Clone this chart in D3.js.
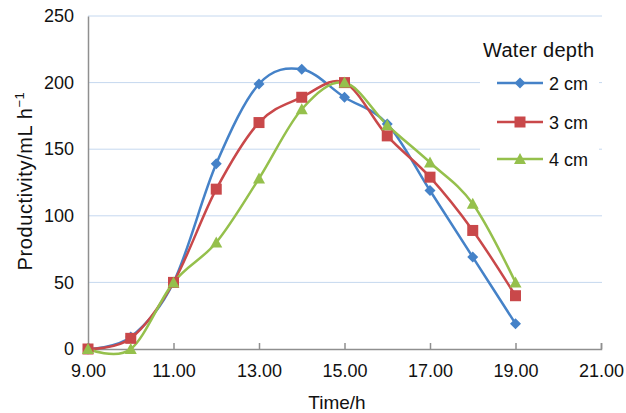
<!DOCTYPE html>
<meta charset="utf-8">
<style>
    body { margin: 0; background: #fff; }
    svg { display: block; font-family: "Liberation Sans", Arial, sans-serif; }
</style>
<svg id="chart" width="626" height="413"></svg>
<script src="https://cdn.jsdelivr.net/npm/d3@7"></script>
<script>
    // data
    var hours = [9, 10, 11, 12, 13, 14, 15, 16, 17, 18, 19];
    var depth2 = [0, 9, 50, 139, 199, 210, 189, 169, 119, 69, 19];
    var depth3 = [0, 8, 50, 120, 170, 189, 200, 160, 129, 89, 40];
    var depth4 = [0, 0, 50, 80, 128, 180, 200, 168, 140, 109, 50];
    var xTicks = [9, 11, 13, 15, 17, 19, 21];
    var yTicks = [0, 50, 100, 150, 200, 250];
    var seriesNames = ["2 cm", "3 cm", "4 cm"];

    var series = [
        { name: seriesNames[0], values: depth2, color: "#4582c8", marker: "diamond" },
        { name: seriesNames[1], values: depth3, color: "#c9484a", marker: "square" },
        { name: seriesNames[2], values: depth4, color: "#95c04c", marker: "triangle" }
    ];

    var svg = d3.select("#chart");
    var plotLeft = 88, plotRight = 601, plotTop = 16, plotBottom = 349;

    var x = d3.scaleLinear().domain([9, 21]).range([plotLeft, plotRight]);
    var y = d3.scaleLinear().domain([0, 250]).range([plotBottom, plotTop]);

    // gridlines
    svg.append("g")
        .selectAll("line")
        .data(yTicks.filter(d => d > 0))
        .join("line")
        .attr("x1", plotLeft).attr("x2", plotRight + 1)
        .attr("y1", d => y(d)).attr("y2", d => y(d))
        .attr("stroke", "#c5d8ef")
        .attr("stroke-width", 1);

    // y axis
    var yAxis = svg.append("g")
        .attr("transform", "translate(" + plotLeft + ",0)")
        .call(d3.axisLeft(y).tickValues(yTicks).tickSize(0).tickPadding(14));
    yAxis.select(".domain").attr("stroke", "#8f8f8f").attr("stroke-width", 1.5);
    yAxis.selectAll("text").attr("font-size", 18).attr("fill", "#111").attr("font-family", null);

    // x axis, ticks pointing up
    var xAxis = svg.append("g")
        .attr("transform", "translate(0," + plotBottom + ")")
        .call(d3.axisBottom(x).tickValues(xTicks).tickFormat(d3.format(".2f"))
            .tickSizeInner(-6).tickSizeOuter(-6).tickPadding(15));
    xAxis.select(".domain").attr("stroke", "#8f8f8f").attr("stroke-width", 1.5);
    xAxis.selectAll(".tick line").attr("stroke", "#8f8f8f").attr("stroke-width", 1.5);
    xAxis.selectAll("text").attr("font-size", 18).attr("fill", "#111").attr("font-family", null);

    // axis titles
    svg.append("text")
        .attr("x", 337).attr("y", 409)
        .attr("text-anchor", "middle")
        .attr("font-size", 19)
        .attr("fill", "#111")
        .text("Time/h");

    var yt = svg.append("text")
        .attr("transform", "translate(32,181) rotate(-90)")
        .attr("text-anchor", "middle")
        .attr("font-size", 20)
        .attr("letter-spacing", 0.6)
        .attr("fill", "#111");
    yt.append("tspan").text("Productivity/mL h");
    yt.append("tspan").attr("dy", -8).attr("font-size", 13).text("\u22121");

    var line = d3.line()
        .x((d, i) => x(hours[i]))
        .y(d => y(d))
        .curve(d3.curveCardinal.tension(0));

    function drawMarker(g, type, color) {
        if (type == "diamond") {
            g.append("path").attr("d", "M0,-5.5L5.5,0L0,5.5L-5.5,0Z").attr("fill", color);
        } else if (type == "square") {
            g.append("rect").attr("x", -5.5).attr("y", -5.5).attr("width", 11).attr("height", 11).attr("fill", color);
        } else {
            g.append("path").attr("d", "M0,-6L6,5L-6,5Z").attr("fill", color);
        }
    }

    series.forEach(s => {
        svg.append("path")
            .attr("d", line(s.values))
            .attr("fill", "none")
            .attr("stroke", s.color)
            .attr("stroke-width", 2.5);
    });
    series.forEach(s => {
        s.values.forEach((v, i) => {
            var g = svg.append("g").attr("transform", "translate(" + x(hours[i]) + "," + y(v) + ")");
            drawMarker(g, s.marker, s.color);
        });
    });

    // legend with white box covering gridlines
    var legend = svg.append("g");
    legend.append("rect")
        .attr("x", 480).attr("y", 28).attr("width", 119).attr("height", 148)
        .attr("fill", "#fff");
    legend.append("text")
        .attr("x", 483).attr("y", 57)
        .attr("font-size", 20)
        .attr("letter-spacing", 0.3)
        .attr("fill", "#111")
        .text("Water depth");
    var rowY = [83, 122, 159];
    series.forEach((s, i) => {
        var row = legend.append("g").attr("transform", "translate(0," + rowY[i] + ")");
        row.append("line")
            .attr("x1", 497).attr("x2", 543)
            .attr("stroke", s.color).attr("stroke-width", 2.5);
        var m = row.append("g").attr("transform", "translate(520,0)");
        drawMarker(m, s.marker, s.color);
        row.append("text")
            .attr("x", 549).attr("y", 6.5)
            .attr("font-size", 18)
            .attr("fill", "#111")
            .text(s.name);
    });
</script>
